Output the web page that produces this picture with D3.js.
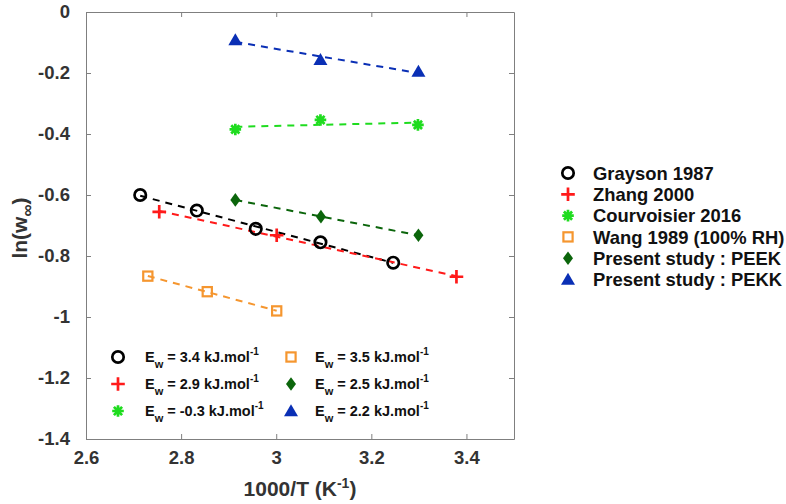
<!DOCTYPE html>
<html>
<head>
<meta charset="utf-8">
<script src="https://cdn.jsdelivr.net/npm/d3@7"></script>
<style>
  body { margin: 0; background: #fff; }
  text { font-family: "Liberation Sans", Arial, sans-serif; font-weight: bold; }
</style>
</head>
<body>
<script>
// values
const graysonX = [2.714, 2.833, 2.957, 3.093, 3.246];
const graysonY = [-0.600, -0.651, -0.711, -0.755, -0.822];
const zhangX = [2.754, 3.001, 3.379];
const zhangY = [-0.655, -0.732, -0.868];
const courvX = [2.914, 3.093, 3.298];
const courvY = [-0.385, -0.354, -0.370];
const wangX = [2.730, 2.855, 3.001];
const wangY = [-0.866, -0.917, -0.980];
const peekX = [2.914, 3.094, 3.299];
const peekY = [-0.616, -0.671, -0.732];
const pekkX = [2.914, 3.093, 3.299];
const pekkY = [-0.092, -0.157, -0.195];

const names = ["Grayson 1987", "Zhang 2000", "Courvoisier 2016", "Wang 1989 (100% RH)", "Present study : PEEK", "Present study : PEKK"];
const energies = ["3.4", "2.9", "-0.3", "3.5", "2.5", "2.2"];
const xTicks = [2.6, 2.8, 3, 3.2, 3.4];
const xTickLabels = ["2.6", "2.8", "3", "3.2", "3.4"];
const yTicks = [0, -0.2, -0.4, -0.6, -0.8, -1, -1.2, -1.4];
const yTickLabels = ["0", "-0.2", "-0.4", "-0.6", "-0.8", "-1", "-1.2", "-1.4"];

const series = [
  {name: names[0], ew: energies[0], xs: graysonX, ys: graysonY, color: "#000000", marker: "circle"},
  {name: names[1], ew: energies[1], xs: zhangX, ys: zhangY, color: "#ff1a1a", marker: "plus"},
  {name: names[2], ew: energies[2], xs: courvX, ys: courvY, color: "#1fdc1f", marker: "asterisk"},
  {name: names[3], ew: energies[3], xs: wangX, ys: wangY, color: "#f5962f", marker: "square"},
  {name: names[4], ew: energies[4], xs: peekX, ys: peekY, color: "#0b650b", marker: "diamond"},
  {name: names[5], ew: energies[5], xs: pekkX, ys: pekkY, color: "#0a2fb5", marker: "triangle"}
];

const width = 786, height = 504;
const margin = {left: 86, top: 12, right: 272, bottom: 65};

const x = d3.scaleLinear().domain([2.6, 3.5]).range([margin.left, width - margin.right]);
const y = d3.scaleLinear().domain([-1.4, 0]).range([height - margin.bottom, margin.top]);

const svg = d3.select("body").append("svg")
  .attr("width", width)
  .attr("height", height);

// axes box, ticks pointing inward
const axisColor = "#7f7f7f";
function styleAxis(g) {
  g.select(".domain").attr("stroke", axisColor);
  g.selectAll(".tick line").attr("stroke", axisColor);
  g.selectAll(".tick text").attr("fill", "#333").attr("font-size", 18.5);
}
svg.append("g")
  .attr("transform", `translate(0,${y(-1.4)})`)
  .call(d3.axisBottom(x).tickValues(xTicks).tickFormat((d, i) => xTickLabels[i]).tickSizeInner(-5).tickSizeOuter(0).tickPadding(12))
  .call(styleAxis);
svg.append("g")
  .attr("transform", `translate(0,${y(0)})`)
  .call(d3.axisTop(x).tickValues(xTicks).tickFormat("").tickSizeInner(-5).tickSizeOuter(0))
  .call(styleAxis);
svg.append("g")
  .attr("transform", `translate(${x(2.6)},0)`)
  .call(d3.axisLeft(y).tickValues(yTicks).tickFormat((d, i) => yTickLabels[i]).tickSizeInner(-5).tickSizeOuter(0).tickPadding(16))
  .call(styleAxis);
svg.append("g")
  .attr("transform", `translate(${x(3.5)},0)`)
  .call(d3.axisRight(y).tickValues(yTicks).tickFormat("").tickSizeInner(-5).tickSizeOuter(0))
  .call(styleAxis);

// axis titles
const xt = svg.append("text")
  .attr("x", 300).attr("y", 496)
  .attr("text-anchor", "middle")
  .attr("font-size", 21).attr("fill", "#333");
xt.append("tspan").text("1000/T (K");
xt.append("tspan").attr("font-size", 14).attr("dy", -8).text("-1");
xt.append("tspan").attr("dy", 8).text(")");

const yt = svg.append("text")
  .attr("transform", "translate(27,228) rotate(-90)")
  .attr("text-anchor", "middle")
  .attr("font-size", 21).attr("fill", "#333");
yt.append("tspan").text("ln(w");
yt.append("tspan").attr("font-size", 17).attr("dy", 6).text("\u221e");
yt.append("tspan").attr("dy", -6).text(")");

// marker drawing
function drawMarker(g, type, color) {
  if (type === "circle") {
    g.append("circle").attr("r", 5.7).attr("fill", "none").attr("stroke", color).attr("stroke-width", 2.7);
  } else if (type === "plus") {
    g.append("path").attr("d", "M-6.8,0H6.8M0,-6.8V6.8").attr("stroke", color).attr("stroke-width", 2.7);
  } else if (type === "asterisk") {
    const r = 5.8, d = r * 0.7071;
    g.append("path")
      .attr("d", `M${-r},0H${r}M0,${-r}V${r}M${-d},${-d}L${d},${d}M${-d},${d}L${d},${-d}`)
      .attr("stroke", color).attr("stroke-width", 2.7);
  } else if (type === "square") {
    g.append("rect").attr("x", -4.6).attr("y", -4.6).attr("width", 9.2).attr("height", 9.2)
      .attr("fill", "none").attr("stroke", color).attr("stroke-width", 2.2);
  } else if (type === "diamond") {
    g.append("path").attr("d", "M0,-6.8L5,0L0,6.8L-5,0Z").attr("fill", color);
  } else if (type === "triangle") {
    g.append("path").attr("d", "M0,-6.8L7,5.2L-7,5.2Z").attr("fill", color);
  }
}

// linear fit of each series, drawn dashed across its x range
function fit(xs, ys) {
  const mx = d3.mean(xs), my = d3.mean(ys);
  const b = d3.sum(xs, (v, i) => (v - mx) * (ys[i] - my)) / d3.sum(xs, v => (v - mx) * (v - mx));
  return v => my + b * (v - mx);
}

const line = d3.line().x(d => x(d[0])).y(d => y(d[1]));

series.forEach(s => {
  const f = fit(s.xs, s.ys);
  const [x0, x1] = d3.extent(s.xs);
  svg.append("path")
    .attr("d", line([[x0, f(x0)], [x1, f(x1)]]))
    .attr("fill", "none")
    .attr("stroke", s.color)
    .attr("stroke-width", 2)
    .attr("stroke-dasharray", "7,6");
});

series.forEach(s => {
  s.xs.forEach((v, i) => {
    const g = svg.append("g").attr("transform", `translate(${x(v)},${y(s.ys[i])})`);
    drawMarker(g, s.marker, s.color);
  });
});

// legend at the right
series.forEach((s, i) => {
  const yy = 173 + i * 21.3;
  drawMarker(svg.append("g").attr("transform", `translate(568,${yy})`), s.marker, s.color);
  svg.append("text")
    .attr("x", 593).attr("y", yy).attr("dy", "0.36em")
    .attr("font-size", 18.4).attr("fill", "#111")
    .text(s.name);
});

// legend of activation energies inside the plot
series.forEach((s, i) => {
  const col = Math.floor(i / 3), row = i % 3;
  const mxp = col === 0 ? 118 : 291;
  const txp = col === 0 ? 145 : 315;
  const yy = 357 + row * 27;
  drawMarker(svg.append("g").attr("transform", `translate(${mxp},${yy})`), s.marker, s.color);
  const t = svg.append("text")
    .attr("x", txp).attr("y", yy).attr("dy", "0.36em")
    .attr("font-size", 14.5).attr("fill", "#111");
  t.append("tspan").text("E");
  t.append("tspan").attr("font-size", 11).attr("dy", 6).text("w");
  t.append("tspan").attr("dy", -6).text(` = ${s.ew} kJ.mol`);
  t.append("tspan").attr("font-size", 10).attr("dy", -7).text("-1");
});
</script>
</body>
</html>
